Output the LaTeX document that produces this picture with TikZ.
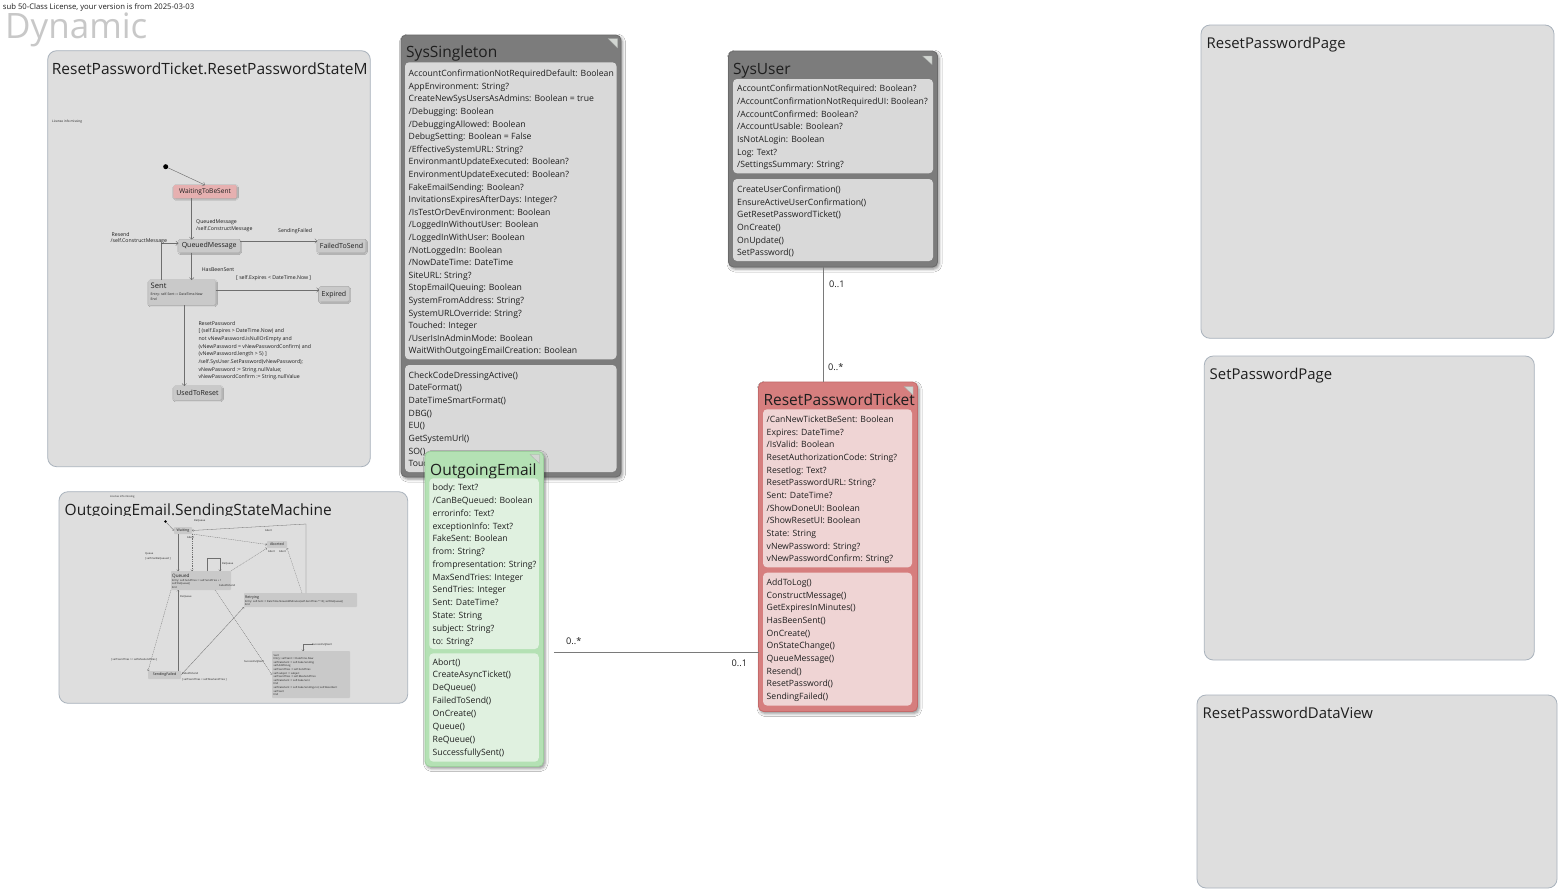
\documentclass[tikz,border=0pt]{standalone}
\usepackage{fontspec}
\setmainfont{Open Sans}
\usetikzlibrary{shadows.blur,arrows.meta}

\definecolor{txt}{HTML}{1E1E1E}
\definecolor{contfill}{HTML}{DEDEDE}
\definecolor{contdraw}{HTML}{A9B2BC}
\definecolor{grayouter}{HTML}{7C7C7C}
\definecolor{graydraw}{HTML}{6A6A6A}
\definecolor{graycomp}{HTML}{D9D9D9}
\definecolor{greenouter}{HTML}{B4E1B4}
\definecolor{greendraw}{HTML}{9DCF9D}
\definecolor{greencomp}{HTML}{E0F1E0}
\definecolor{redouter}{HTML}{D67E7E}
\definecolor{reddraw}{HTML}{C46A6A}
\definecolor{redcomp}{HTML}{EFD4D4}
\definecolor{trifill}{HTML}{D2D6D2}
\definecolor{statefill}{HTML}{C9C9C9}
\definecolor{statepink}{HTML}{E6B0B0}
\definecolor{smline}{HTML}{6E6E6E}
\definecolor{assocline}{HTML}{7A7A7A}
\definecolor{watermark}{HTML}{C8C8C8}

\newcommand\fs[1]{\fontsize{#1}{#1}\selectfont}

% rounded box node from its top-left to bottom-right corner
\newcommand\rbox[7]{%
  \pgfmathsetmacro\rbw{#5-#3}%
  \pgfmathsetmacro\rbh{#6-#4}%
  \node[#2,anchor=north west,minimum width=\rbw pt,minimum height=\rbh pt,
        inner sep=0pt,outer sep=0pt] (#1) at (#3,#4) {#7};}

% one node per text row, baselines spaced evenly
\newcommand\rows[6]{%
  \foreach \rt [count=\ri from 0] in {#6}{%
    \node[#2,anchor=base west] (#1\ri) at (#3,{#4+#5*\ri}) {\rt};}}

\begin{document}
\begin{tikzpicture}[x=1pt,y=-1pt,
  cont/.style={draw=contdraw,line width=0.8pt,fill=contfill,rounded corners=9pt},
  conttitle/.style={font=\fs{15.5},text=txt,inner sep=0pt},
  pgtitle/.style={font=\fs{14.9},text=txt,inner sep=0pt},
  shadowed/.style={blur shadow={shadow xshift=1.5pt,shadow yshift=-2pt,shadow blur radius=3pt,shadow opacity=45}},
  grayclass/.style={draw=graydraw,line width=0.8pt,fill=grayouter,rounded corners=5pt,shadowed},
  greenclass/.style={draw=greendraw,line width=0.8pt,fill=greenouter,rounded corners=5pt,shadowed},
  redclass/.style={draw=reddraw,line width=0.8pt,fill=redouter,rounded corners=5pt,shadowed},
  graycmp/.style={fill=graycomp,rounded corners=4pt},
  greencmp/.style={fill=greencomp,rounded corners=4pt},
  redcmp/.style={fill=redcomp,rounded corners=4pt},
  clsname/.style={font=\fs{15.5},text=txt,inner sep=0pt},
  member/.style={font=\fs{8.65},text=txt,inner sep=0pt},
  tri/.style={fill=trifill,draw=trifill!80!black,line width=0.3pt},
  assoc/.style={draw=assocline,line width=0.7pt},
  mult/.style={font=\fs{9.2},text=txt,inner sep=0pt},
  st/.style={fill=statefill,rounded corners=1.5pt,
     blur shadow={shadow xshift=0.6pt,shadow yshift=-0.8pt,shadow blur radius=1pt,shadow opacity=30}},
  stname/.style={font=\fs{7},text=txt,inner sep=0pt},
  stsmall/.style={font=\fs{3.4},text=txt,inner sep=0pt},
  trlabel/.style={font=\fs{5.2},text=txt,inner sep=0pt},
  sm/.style={draw=smline,line width=0.45pt,-{Straight Barb[length=2.2pt,width=4.6pt,line width=0.4pt]}},
  smln/.style={draw=smline,line width=0.45pt},
  tinyst/.style={fill=statefill,rounded corners=0.8pt},
  tinytxt/.style={font=\fs{2.6},text=txt,inner sep=0pt},
  tinyname/.style={font=\fs{3.6},text=txt,inner sep=0pt},
  tiny/.style={draw=smline,line width=0.3pt,-{Straight Barb[length=1.2pt,width=2.4pt,line width=0.3pt]}},
  tinyd/.style={tiny,dash pattern=on 1pt off 0.8pt},
]
\useasboundingbox[fill=white] (0,0) rectangle (1558,889);

% ---------- header ----------
\node[font=\fs{7.7},text=txt,inner sep=0pt,anchor=base west] (lic) at (2.7,9.3)
  {sub 50-Class License, your version is from 2025-03-03};
\node[font=\fs{35},text=watermark,inner sep=0pt,anchor=base west] (dyn) at (5,38.5) {Dynamic};

% ---------- containers ----------
\rbox{smA}{cont}{47.7}{50.7}{370.3}{466.7}{}
\rbox{smB}{cont}{59}{491.7}{407.7}{703.3}{}
\rbox{pgA}{cont}{1201}{25}{1554}{338.3}{}
\rbox{pgB}{cont}{1204.3}{356}{1534.3}{660}{}
\rbox{pgC}{cont}{1197}{695}{1557}{888}{}

\node[pgtitle,anchor=base west] (pgAt) at (1206.5,48.3) {ResetPasswordPage};
\node[pgtitle,anchor=base west] (pgBt) at (1209.5,379) {SetPasswordPage};
\node[pgtitle,anchor=base west] (pgCt) at (1202.5,718.3) {ResetPasswordDataView};

% ---------- ResetPasswordTicket state machine ----------
\begin{scope}
  \clip (47.7,50.7) rectangle (367.5,90);
  \node[conttitle,anchor=base west] (smAt) at (51.7,74) {ResetPasswordTicket.ResetPasswordStateMachine};
\end{scope}
\node[font=\fs{3.2},text=txt,inner sep=0pt,anchor=base west] (smAlic) at (52,122) {License info missing};

\node[circle,fill=black,inner sep=0pt,minimum size=5pt] (a0) at (165.7,166.7) {};
\rbox{aW}{st,fill=statepink}{173.3}{185}{236.7}{198.3}{\fs{6.6}\color{txt}WaitingToBeSent}
\rbox{aQ}{st}{178.3}{239.5}{240}{252.7}{\fs{7}\color{txt}QueuedMessage}
\rbox{aF}{st}{317.3}{239.5}{365.7}{252.7}{\fs{7}\color{txt}FailedToSend}
\rbox{aS}{st}{148.3}{280}{215.7}{305}{}
\node[stname,font=\fs{7.6},anchor=base west] (aSn) at (150.5,288.5) {Sent};
\node[stsmall,anchor=base west] (aSe) at (150.5,295.5) {Entry: self.Sent := DateTime.Now};
\node[stsmall,anchor=base west] (aSx) at (150.5,300.5) {End};
\rbox{aE}{st}{319}{286.7}{349}{301.7}{\fs{7}\color{txt}Expired}
\rbox{aU}{st}{173.3}{386}{221.7}{400}{\fs{7}\color{txt}UsedToReset}

\coordinate (vq) at (191.7,0);
\coordinate (vr) at (161,243.3);
\coordinate (vu) at (184.3,0);
\coordinate (hf) at (0,241);
\coordinate (he) at (0,290);

\draw[sm] (a0) -- (aW.north);
\draw[sm] (aW.south -| vq) -- (aQ.north -| vq);
\draw[sm] (aQ.south -| vq) -- (aS.north -| vq);
\draw[sm] (aS.north -| vr) |- (aQ.west |- vr);
\draw[sm] (aQ.east |- hf) -- (aF.west |- hf);
\draw[sm] (aS.east |- he) -- (aE.west |- he);
\draw[sm] (aS.south -| vu) -- (aU.north -| vu);

\node[trlabel,anchor=base west] (lQ1) at (196,223.3) {QueuedMessage};
\node[trlabel,anchor=base west] (lQ2) at (196,230.7) {/self.ConstructMessage};
\node[trlabel,anchor=base west] (lR1) at (111.5,236) {Resend};
\node[trlabel,anchor=base west] (lR2) at (110.5,242.7) {/self.ConstructMessage};
\node[trlabel,anchor=base west] (lF) at (278,232.7) {SendingFailed};
\node[trlabel,anchor=base west] (lH) at (201.7,271.7) {HasBeenSent};
\node[trlabel,anchor=base west] (lX) at (236,279) {[ self.Expires < DateTime.Now ]};
\rows{lU}{trlabel}{198.3}{325}{7.67}{%
  ResetPassword,
  {[ (self.Expires > DateTime.Now) and},
  not vNewPassword.isNullOrEmpty and,
  {(vNewPassword = vNewPasswordConfirm) and},
  {(vNewPassword.length > 5) ]},
  {/self.SysUser.SetPassword(vNewPassword);},
  {vNewPassword := String.nullValue;},
  {vNewPasswordConfirm := String.nullValue}}

% ---------- OutgoingEmail state machine ----------
\node[font=\fs{2.6},text=txt,inner sep=0pt,anchor=base west] (smBlic) at (110,497.5) {License info missing};
\begin{scope}
  \clip (59,491.7) rectangle (407.7,515.6);
  \node[conttitle,anchor=base west] (smBt) at (64.5,515) {OutgoingEmail.SendingStateMachine};
\end{scope}

\node[circle,fill=black,inner sep=0pt,minimum size=2.6pt] (b0) at (165.5,521.5) {};
\rbox{bW}{tinyst}{174}{527}{192}{534}{\fs{3.6}\color{txt}Waiting}
\rbox{bA}{tinyst}{267}{541}{287}{548}{\fs{3.6}\color{txt}Aborted}
\rbox{bQ}{tinyst}{171}{571}{231}{590}{}
\node[tinyname,font=\fs{4.6},anchor=base west] (bQn) at (172,577.5) {Queued};
\node[tinytxt,anchor=base west] (bQe) at (172,581.5) {Entry: self.SendTries := self.SendTries + 1};
\node[tinytxt,anchor=base west] (bQd) at (172,584.8) {self.DeQueue()};
\node[tinytxt,anchor=base west] (bQx) at (172,588.1) {End};
\rbox{bR}{tinyst}{244}{593}{357}{607}{}
\node[tinyname,anchor=base west] (bRn) at (245,598.5) {Retrying};
\node[tinytxt,anchor=base west] (bRe) at (245,602.2) {Entry: self.Sent := DateTime.Now.AddMinutes(self.SendTries * 10); self.ReQueue()};
\node[tinytxt,anchor=base west] (bRx) at (245,605.4) {End};
\rbox{bS}{tinyst}{272}{651}{350}{698}{}
\rows{bSr}{tinytxt}{273.5}{656}{3.6}{%
  Sent,
  {Entry: self.Sent := DateTime.Now},
  {self.FakeSent := self.Fake.Sending},
  {  self.AddToLog},
  {self.SendTries := self.SendTries},
  {self.subject := subject},
  {self.SendTries := self.MaxSendTries},
  {self.FakeSent := self.Fake.Sent},
  End,
  {self.FakeSent := self.Fake.Sending.not; self.ResetSent},
  {self.Sent},
  End}
\rbox{bF}{tinyst}{148}{671}{181}{679}{\fs{3.6}\color{txt}SendingFailed}

\coordinate (bx1) at (178,0);
\coordinate (bx2) at (192,0);
\coordinate (bx3) at (302,0);
\coordinate (bx4) at (215,0);
\coordinate (bcorner) at (306,524);
\coordinate (bloop) at (207,558);
\coordinate (bloop2) at (220,558);
\coordinate (bsent) at (303,644);

\draw[tiny] (b0) -- (bW.west);
\draw[tiny] (bW.south -| bx1) -- (bQ.north -| bx1);
\draw[tinyd] (bW.south -| bx2) -- (bQ.north -| bx2);
\draw[tiny] (bR.north -| bcorner) -- (bcorner) -- (bW.east);
\draw[tinyd] (bW.south east) -- (bA.west);
\draw[tinyd] (bQ.north east) -- (bA.south west);
\draw[tinyd] (bR.north -| bx3) -- (bA.south east);
\draw[tiny] (bQ.north -| bloop) -- (bloop) -- (bloop2) -- (bQ.north -| bloop2);
\draw[tinyd] (bQ.south west) -- (bF.north west);
\draw[tiny] (bF.north -| bx1) -- (bQ.south -| bx1);
\draw[tiny] (bF.east) -- (bR.south west);
\draw[tinyd] (bQ.south -| bx4) -- (bS.west);
\draw[smln,line width=0.3pt] (bsent) -- ++(10,0);
\draw[tiny] (bsent) -- (bS.north -| bsent);

\node[tinytxt,anchor=base west] (bl1) at (194,521) {ReQueue};
\node[tinytxt,anchor=base west] (bl2) at (265,531.5) {Abort};
\node[tinytxt,anchor=base west] (bl3) at (187,538.5) {Abort};
\node[tinytxt,anchor=base west] (bl4) at (268,552.5) {Abort};
\node[tinytxt,anchor=base west] (bl5) at (279,552.5) {Abort};
\node[tinytxt,anchor=base west] (bl6) at (145,554) {Queue};
\node[tinytxt,anchor=base west] (bl7) at (145,559.5) {[ self.CanBeQueued ]};
\node[tinytxt,anchor=base west] (bl8) at (222,564) {ReQueue};
\node[tinytxt,anchor=base west] (bl9) at (219,586.5) {FailedToSend};
\node[tinytxt,anchor=base west] (bl10) at (180,597) {DeQueue};
\node[tinytxt,anchor=base west] (bl11) at (111,660) {[ self.SendTries >= self.MaxSendTries ]};
\node[tinytxt,anchor=base west] (bl12) at (244,662.5) {SuccessfullySent};
\node[tinytxt,anchor=base west] (bl13) at (182,674) {FailedToSend};
\node[tinytxt,anchor=base west] (bl14) at (182,680) {[ self.SendTries < self.MaxSendTries ]};
\node[tinytxt,anchor=base west] (bl15) at (312,645) {SuccessfullySent};

% ---------- SysSingleton ----------
\rbox{ss}{grayclass}{401}{35}{621}{477}{}
\node[clsname,anchor=base west] (ssn) at (406,57.3) {SysSingleton};
\fill[tri] (608,38.5) -- (617.5,38.5) -- (617.5,48) -- cycle;
\rbox{ssA}{graycmp}{405}{62.3}{616.5}{359.3}{}
\rbox{ssM}{graycmp}{405}{365}{616.5}{472}{}
\rows{ssa}{member}{408.5}{76.7}{12.6}{%
  AccountConfirmationNotRequiredDefault: Boolean,
  AppEnvironment: String?,
  CreateNewSysUsersAsAdmins: Boolean = true,
  /Debugging: Boolean,
  /DebuggingAllowed: Boolean,
  DebugSetting: Boolean = False,
  /EffectiveSystemURL: String?,
  EnvironmantUpdateExecuted: Boolean?,
  EnvironmentUpdateExecuted: Boolean?,
  FakeEmailSending: Boolean?,
  InvitationsExpiresAfterDays: Integer?,
  /IsTestOrDevEnvironment: Boolean,
  /LoggedInWithoutUser: Boolean,
  /LoggedInWithUser: Boolean,
  /NotLoggedIn: Boolean,
  /NowDateTime: DateTime,
  SiteURL: String?,
  StopEmailQueuing: Boolean,
  SystemFromAddress: String?,
  SystemURLOverride: String?,
  Touched: Integer,
  /UserIsInAdminMode: Boolean,
  WaitWithOutgoingEmailCreation: Boolean}
\rows{ssm}{member}{408.5}{378}{12.7}{%
  CheckCodeDressingActive(),
  DateFormat(),
  DateTimeSmartFormat(),
  DBG(),
  EU(),
  GetSystemUrl(),
  SO()}
% last operation row runs under the OutgoingEmail box
\begin{scope}
  \clip (405,455) rectangle (425,472);
  \node[member,anchor=base west] (ssm7) at (408.5,466.9) {Touch()};
\end{scope}

% ---------- SysUser ----------
\rbox{su}{grayclass}{728.5}{51}{937.5}{267}{}
\node[clsname,anchor=base west] (sun) at (733,74.3) {SysUser};
\fill[tri] (922.5,56) -- (932,56) -- (932,64.5) -- cycle;
\rbox{suA}{graycmp}{733}{79}{933}{173.3}{}
\rbox{suM}{graycmp}{733}{179}{933}{261}{}
\rows{sua}{member}{737}{91.7}{12.67}{%
  AccountConfirmationNotRequired: Boolean?,
  /AccountConfirmationNotRequiredUI: Boolean?,
  /AccountConfirmed: Boolean?,
  /AccountUsable: Boolean?,
  IsNotALogin: Boolean,
  Log: Text?,
  /SettingsSummary: String?}
\rows{sum}{member}{737}{192.7}{12.6}{%
  CreateUserConfirmation(),
  EnsureActiveUserConfirmation(),
  GetResetPasswordTicket(),
  OnCreate(),
  OnUpdate(),
  SetPassword()}

% ---------- ResetPasswordTicket ----------
\rbox{rpt}{redclass}{758.5}{382}{917.5}{711.5}{}
\node[clsname,anchor=base west] (rptn) at (763.3,405) {ResetPasswordTicket};
\fill[tri] (904,386.5) -- (913,386.5) -- (913,395) -- cycle;
\rbox{rptA}{redcmp}{763}{409.3}{912}{567.3}{}
\rbox{rptM}{redcmp}{763}{572.7}{912}{705.5}{}
\rows{rpta}{member}{766.5}{422.7}{12.64}{%
  /CanNewTicketBeSent: Boolean,
  Expires: DateTime?,
  /IsValid: Boolean,
  ResetAuthorizationCode: String?,
  Resetlog: Text?,
  ResetPasswordURL: String?,
  Sent: DateTime?,
  /ShowDoneUI: Boolean,
  /ShowResetUI: Boolean,
  State: String,
  vNewPassword: String?,
  vNewPasswordConfirm: String?}
\rows{rptm}{member}{766.5}{585.7}{12.62}{%
  AddToLog(),
  ConstructMessage(),
  GetExpiresInMinutes(),
  HasBeenSent(),
  OnCreate(),
  OnStateChange(),
  QueueMessage(),
  Resend(),
  ResetPassword(),
  SendingFailed()}

% ---------- OutgoingEmail ----------
\rbox{oe}{greenclass}{425}{451.5}{543.5}{766.5}{}
\node[clsname,anchor=base west] (oen) at (430,475.7) {OutgoingEmail};
\fill[tri] (530,454.5) -- (539.5,454.5) -- (539.5,463.5) -- cycle;
\rbox{oeA}{greencmp}{429.3}{478.3}{538.8}{649}{}
\rbox{oeM}{greencmp}{429.3}{653.3}{538.8}{761.7}{}
\rows{oea}{member}{432.5}{490.7}{12.78}{%
  body: Text?,
  /CanBeQueued: Boolean,
  errorinfo: Text?,
  exceptionInfo: Text?,
  FakeSent: Boolean,
  from: String?,
  frompresentation: String?,
  MaxSendTries: Integer,
  SendTries: Integer,
  Sent: DateTime?,
  State: String,
  subject: String?,
  to: String?}
\rows{oem}{member}{432.5}{665}{12.9}{%
  Abort(),
  CreateAsyncTicket(),
  DeQueue(),
  FailedToSend(),
  OnCreate(),
  Queue(),
  ReQueue(),
  SuccessfullySent()}

% ---------- associations ----------
\coordinate (xu) at (823.5,0);
\draw[assoc] (su.south -| xu) -- (rpt.north -| xu);
\node[mult,anchor=base west] (m1) at (829,287.3) {0..1};
\node[mult,anchor=base west] (m2) at (828,370) {0..*};

\coordinate (oeend) at (554,652.3);
\draw[assoc] (oeend) -- (oeend -| rpt.west);
\node[mult,anchor=base west] (m3) at (566,644) {0..*};
\node[mult,anchor=base west] (m4) at (731.5,666.7) {0..1};

\end{tikzpicture}
\end{document}
